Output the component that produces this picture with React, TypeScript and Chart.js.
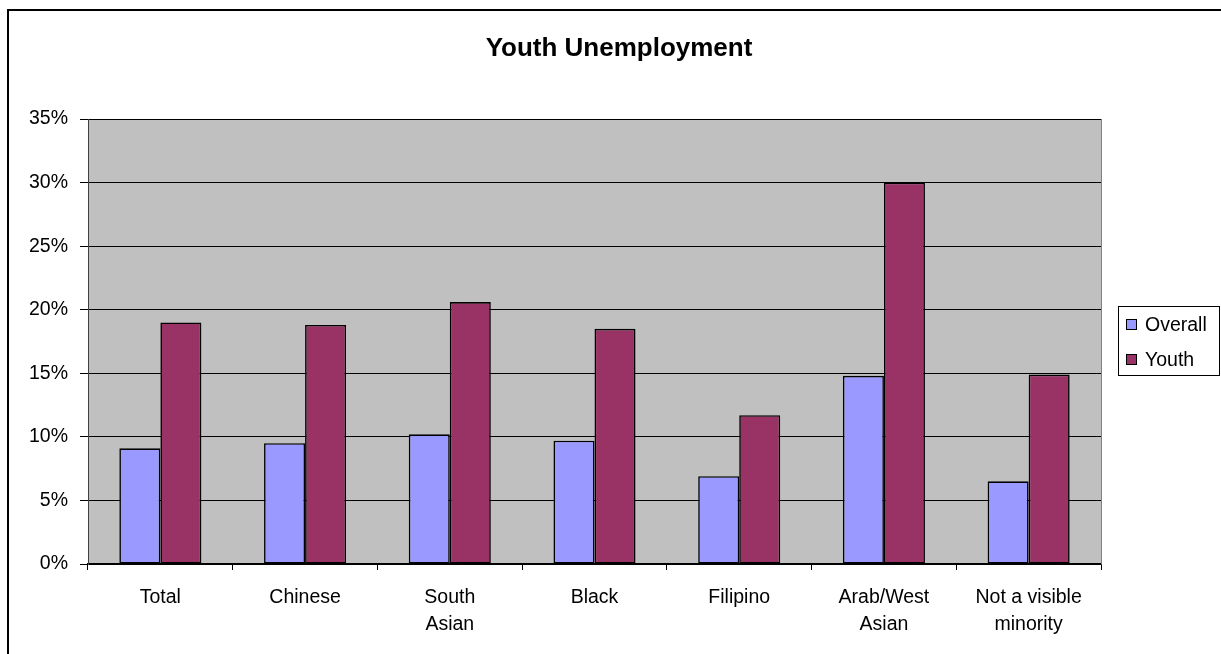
import React, { useEffect, useRef } from "react";
import { Chart, registerables } from "chart.js";

Chart.register(...registerables);

const categories: (string | string[])[] = [
  "Total",
  "Chinese",
  ["South", "Asian"],
  "Black",
  "Filipino",
  ["Arab/West", "Asian"],
  ["Not a visible", "minority"],
];
const overall = [0.091, 0.095, 0.102, 0.097, 0.069, 0.148, 0.065];
const youth = [0.19, 0.188, 0.206, 0.185, 0.117, 0.3, 0.149];
const seriesNames = ["Overall", "Youth"];
const seriesColors = ["#9999FF", "#993366"];
const titleText = "Youth Unemployment";

const FONT = "'Liberation Sans', Arial, sans-serif";

const decorPlugin = {
  id: "decor",
  beforeDraw(chart: any) {
    const { ctx, chartArea } = chart;
    ctx.save();
    ctx.fillStyle = "#C0C0C0";
    ctx.fillRect(chartArea.left, chartArea.top, chartArea.right - chartArea.left, chartArea.bottom - chartArea.top);
    ctx.restore();
  },
  afterDraw(chart: any) {
    const { ctx, chartArea } = chart;
    ctx.save();
    // right border of plot area
    ctx.strokeStyle = "#808080";
    ctx.lineWidth = 1;
    ctx.beginPath();
    ctx.moveTo(Math.round(chartArea.right) + 0.5, chartArea.top);
    ctx.lineTo(Math.round(chartArea.right) + 0.5, chartArea.bottom);
    ctx.stroke();

    // title
    ctx.fillStyle = "#000";
    ctx.font = `bold 26px ${FONT}`;
    ctx.textAlign = "center";
    ctx.textBaseline = "middle";
    ctx.fillText(titleText, 619, 49);

    // legend
    ctx.strokeStyle = "#000";
    ctx.lineWidth = 1;
    ctx.strokeRect(1118.5, 306.5, 101, 69);
    ctx.font = `19.5px ${FONT}`;
    ctx.textAlign = "left";
    seriesNames.forEach((name, i) => {
      const cy = 325 + i * 35;
      ctx.fillStyle = seriesColors[i];
      ctx.fillRect(1126, cy - 6, 11, 11);
      ctx.strokeStyle = "#000";
      ctx.strokeRect(1126.5, cy - 5.5, 10, 10);
      ctx.fillStyle = "#000";
      ctx.fillText(name, 1145, cy + 1);
    });
    ctx.restore();
  },
};

export default function App() {
  const ref = useRef<HTMLCanvasElement>(null);
  useEffect(() => {
    if (!ref.current) return;
    const chart = new Chart(ref.current, {
      type: "bar",
      data: {
        labels: categories,
        datasets: seriesNames.map((name, i) => ({
          label: name,
          data: i === 0 ? overall : youth,
          backgroundColor: seriesColors[i],
          borderColor: "#000",
          borderWidth: 1.6,
          borderSkipped: false,
          barPercentage: 1,
          categoryPercentage: 0.567,
        })),
      },
      options: {
        responsive: false,
        animation: false,
        events: [],
        layout: { padding: { top: 119, right: 120, bottom: 0, left: 0 } },
        plugins: {
          legend: { display: false },
          title: { display: false },
          tooltip: { enabled: false },
        },
        scales: {
          x: {
            afterFit(scale: any) {
              scale.height = 90;
            },
            grid: {
              offset: true,
              drawOnChartArea: false,
              drawTicks: true,
              tickLength: 6,
              color: "#000",
            },
            border: { color: "#000", width: 1.5 },
            ticks: {
              color: "#000",
              font: { family: FONT, size: 19.5, lineHeight: 1.4 },
              padding: 14,
              maxRotation: 0,
              autoSkip: false,
            },
          },
          y: {
            min: 0,
            max: 0.35,
            afterFit(scale: any) {
              scale.width = 88;
            },
            grid: {
              color: "#000",
              lineWidth: 1,
              drawTicks: true,
              tickLength: 8,
            },
            border: { color: "#404040", width: 1 },
            ticks: {
              stepSize: 0.05,
              color: "#000",
              font: { family: FONT, size: 19.5 },
              padding: 12,
              callback: (v: any) => `${Math.round(Number(v) * 100)}%`,
            },
          },
        },
      },
      plugins: [decorPlugin],
    });
    return () => chart.destroy();
  }, []);

  return (
    <div
      style={{
        position: "fixed",
        left: 0,
        top: 0,
        width: 1221,
        height: 654,
        overflow: "hidden",
        background: "#fff",
      }}
    >
      <div
        style={{
          position: "absolute",
          left: 7,
          top: 9,
          width: 1400,
          height: 800,
          border: "2px solid #000",
          boxSizing: "border-box",
        }}
      />
      <canvas
        ref={ref}
        width={1221}
        height={654}
        style={{ position: "absolute", left: 0, top: 0, width: 1221, height: 654 }}
      />
    </div>
  );
}
